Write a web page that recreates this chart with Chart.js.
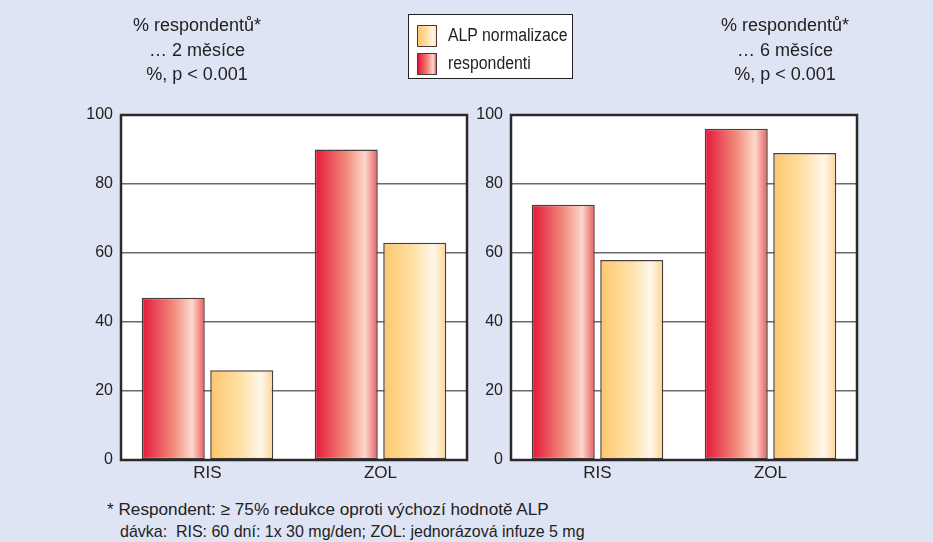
<!DOCTYPE html>
<html>
<head>
<meta charset="utf-8">
<script src="https://cdn.jsdelivr.net/npm/chart.js@4/dist/chart.umd.min.js"></script>
<style>
  html, body { margin: 0; padding: 0; }
  body {
    width: 933px; height: 542px; position: relative; overflow: hidden;
    background: #dfe4f4;
    font-family: 'Liberation Sans', Arial, sans-serif;
    color: #222;
  }
  .abs { position: absolute; }
  .title { font-size: 18px; line-height: 24.5px; text-align: center; width: 240px; white-space: nowrap; }
  #legend {
    left: 408px; top: 14px; width: 163px; height: 63px;
    background: #fff; border: 1.5px solid #222;
  }
  .sw { position: absolute; left: 8px; width: 18px; height: 20px; border: 1px solid #4a3a3a; }
  .lt { position: absolute; left: 39px; font-size: 18px; line-height: 20px; white-space: nowrap;
        transform: scaleX(0.88); transform-origin: 0 50%; }
  .note { font-size: 17px; white-space: nowrap; line-height: 20px; transform-origin: 0 50%; }
</style>
</head>
<body>
<canvas id="c1" class="abs" style="left:0;top:0" width="480" height="490"></canvas>
<canvas id="c2" class="abs" style="left:450px;top:0" width="483" height="490"></canvas>

<div class="abs title" style="left:77px;top:13px">% respondentů*<br>… 2 měsíce<br>%, p &lt; 0.001</div>
<div class="abs title" style="left:665px;top:13px">% respondentů*<br>… 6 měsíce<br>%, p &lt; 0.001</div>

<div id="legend" class="abs">
  <div class="sw" style="top:10px;background:linear-gradient(90deg,#fdc46a,#fee3ad 55%,#fff7ea 85%,#fde0a8)"></div>
  <div class="lt" style="top:10px">ALP normalizace</div>
  <div class="sw" style="top:38px;background:linear-gradient(90deg,#e5163a,#f28c7c 55%,#fdd9cf 85%,#ea5a60)"></div>
  <div class="lt" style="top:38px">respondenti</div>
</div>

<div class="abs note" style="left:107px;top:500px;transform:scaleX(1.01)">* Respondent: ≥ 75% redukce oproti výchozí hodnotě ALP</div>
<div class="abs note" style="left:120px;top:522px;transform:scaleX(0.94)">dávka:&nbsp; RIS: 60 dní: 1x 30 mg/den; ZOL: jednorázová infuze 5 mg</div>

<script>
// Treatment groups on the x axis
const categories = ['RIS', 'ZOL'];

// Values in % after 2 months
const respondenti2m = [47, 90];
const alpNorm2m = [26, 63];

// Values in % after 6 months
const respondenti6m = [74, 96];
const alpNorm6m = [58, 89];

// Y axis tick values
const yTicks = [0, 20, 40, 60, 80, 100];

const FONT = "'Liberation Sans', Arial, sans-serif";

const redStops = [[0, '#e5163a'], [0.5, '#f28a7a'], [0.8, '#fdd8cd'], [1, '#e85a5e']];
const yellowStops = [[0, '#fdc66c'], [0.5, '#fee2aa'], [0.8, '#fff7ea'], [1, '#fdd595']];

// Paints the white plot area, horizontal gradients on bars and the dark frame
const panelPlugin = {
  id: 'panel',
  beforeDraw(chart) {
    const { ctx, chartArea: a } = chart;
    ctx.save();
    ctx.fillStyle = '#ffffff';
    ctx.fillRect(a.left, a.top, a.right - a.left, a.bottom - a.top);
    ctx.restore();
  },
  beforeDatasetsDraw(chart) {
    const ctx = chart.ctx;
    chart.data.datasets.forEach((ds, i) => {
      const stops = i === 0 ? redStops : yellowStops;
      chart.getDatasetMeta(i).data.forEach(bar => {
        const g = ctx.createLinearGradient(bar.x - bar.width / 2, 0, bar.x + bar.width / 2, 0);
        stops.forEach(s => g.addColorStop(s[0], s[1]));
        const o = bar.options;
        bar.options = {
          backgroundColor: g,
          borderColor: o.borderColor,
          borderWidth: o.borderWidth,
          borderSkipped: o.borderSkipped,
          borderRadius: o.borderRadius,
          inflateAmount: o.inflateAmount
        };
      });
    });
  },
  afterDatasetsDraw(chart) {
    const { ctx, chartArea: a } = chart;
    ctx.save();
    ctx.strokeStyle = '#2a2a2a';
    ctx.lineWidth = 2.5;
    ctx.strokeRect(a.left, a.top, a.right - a.left, a.bottom - a.top);
    ctx.restore();
  }
};

function makeChart(id, red, yellow, axisWidth, padRight) {
  const barStyle = {
    categoryPercentage: 0.792,
    barPercentage: 0.92,
    borderColor: '#4a3d3d',
    borderWidth: 1.5,
    borderSkipped: false,
    borderRadius: 0,
    inflateAmount: 0
  };
  return new Chart(document.getElementById(id), {
    type: 'bar',
    data: {
      labels: categories,
      datasets: [
        Object.assign({ label: 'respondenti', data: red, backgroundColor: '#e5163a' }, barStyle),
        Object.assign({ label: 'ALP normalizace', data: yellow, backgroundColor: '#fdc66c' }, barStyle)
      ]
    },
    options: {
      responsive: false,
      animation: false,
      events: [],
      layout: { padding: { top: 115, right: padRight, left: 0, bottom: 0 } },
      plugins: {
        legend: { display: false }, title: { display: false },
        tooltip: { enabled: false }, colors: { enabled: false }
      },
      scales: {
        x: {
          grid: { display: false, drawTicks: false },
          border: { display: false },
          ticks: { color: '#222', font: { family: FONT, size: 17 }, padding: 3 },
          afterFit(s) { s.height = 30; }
        },
        y: {
          min: 0, max: 100,
          afterBuildTicks(s) { s.ticks = yTicks.map(v => ({ value: v })); },
          grid: { color: '#6a6a6a', lineWidth: 1.5, drawTicks: false },
          border: { display: false },
          ticks: { color: '#222', font: { family: FONT, size: 16 }, padding: 8 },
          afterFit(s) { s.width = axisWidth; }
        }
      }
    },
    plugins: [panelPlugin]
  });
}

makeChart('c1', respondenti2m, alpNorm2m, 121, 13);
makeChart('c2', respondenti6m, alpNorm6m, 61, 76);
</script>
</body>
</html>
